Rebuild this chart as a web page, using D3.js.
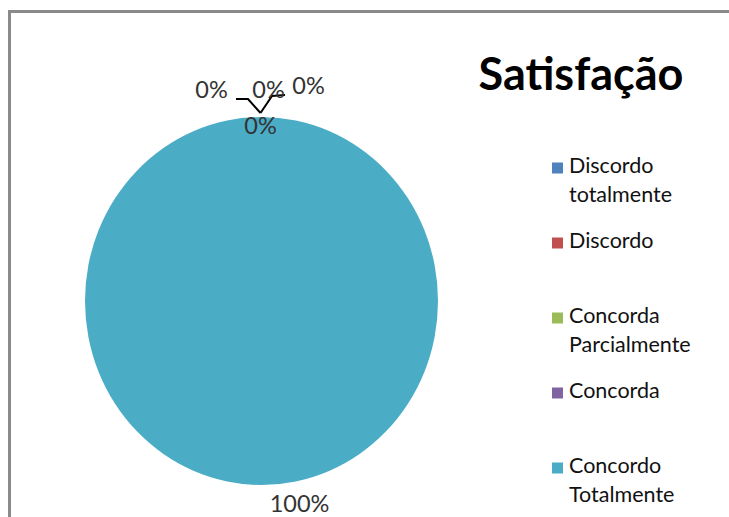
<!doctype html>
<html lang="en">
<head>
    <meta charset="utf-8">
    <title>Satisfação</title>
    <script src="https://d3js.org/d3.v7.min.js"></script>
    <style>
        body { margin: 0; background: #fff; }
        text { font-family: Lato, "Open Sans", sans-serif; }
    </style>
</head>
<body>
    <div id="chart"></div>
    <script>
        // data
        var categories = ["Discordo totalmente", "Discordo", "Concorda Parcialmente", "Concorda", "Concordo Totalmente"]
        var values = [0, 0, 0, 0, 100]
        var percentLabels = ["0%", "0%", "0%", "0%", "100%"]
        var legendLines = [["Discordo", "totalmente"], ["Discordo"], ["Concorda", "Parcialmente"], ["Concorda"], ["Concordo", "Totalmente"]]
        var colors = ["#4F81BD", "#C0504D", "#9BBB59", "#8064A2", "#4BACC6"]

        var width = 729, height = 517
        var cx = 261.5, cy = 301, rx = 176.5, ry = 184

        var svg = d3.select("#chart").append("svg")
            .attr("width", width)
            .attr("height", height)

        // frame (bottom and right are cut off in the picture)
        svg.append("path")
            .attr("d", "M9.5,517 L9.5,11.5 L729,11.5")
            .attr("fill", "none")
            .attr("stroke", "#8a8a8a")
            .attr("stroke-width", 3)

        var pie = d3.pie().sort(null).value(function (d) { return d })
        var data_ready = pie(values)
        var arc = d3.arc().innerRadius(0).outerRadius(rx)

        var g = svg.append("g")
            .attr("transform", "translate(" + cx + "," + cy + ") scale(1," + (ry / rx) + ")")

        g.selectAll("path")
            .data(data_ready)
            .enter()
            .append("path")
            .attr("d", arc)
            .attr("fill", function (d, i) { return colors[i] })

        // labels: anchor on the rim at mid angle, then nudged like Excel's best fit
        var offsets = [[-50, -25], [7, -25], [47, -29], [-1, 11], [38, 21]]
        function rim(d) {
            var a = (d.startAngle + d.endAngle) / 2
            return [cx + rx * Math.sin(a), cy - ry * Math.cos(a)]
        }

        // leader lines for the zero slices
        var rimTop = rim(data_ready[0])
        var knee = [rimTop[0] - 1, rimTop[1] - 4]
        var leaders = [
            [[236, 99], [248, 99], knee],
            [knee, [272, 96], [285, 95]]
        ]
        svg.selectAll(".leader")
            .data(leaders)
            .enter()
            .append("path")
            .attr("class", "leader")
            .attr("d", d3.line())
            .attr("fill", "none")
            .attr("stroke", "#000")
            .attr("stroke-width", 2)

        svg.selectAll(".lbl")
            .data(data_ready)
            .enter()
            .append("text")
            .attr("class", "lbl")
            .attr("x", function (d, i) { return rim(d)[0] + offsets[i][0] })
            .attr("y", function (d, i) { return rim(d)[1] + offsets[i][1] })
            .attr("text-anchor", "middle")
            .attr("dominant-baseline", "middle")
            .attr("font-size", 23.5)
            .attr("fill", "#333")
            .text(function (d, i) { return percentLabels[i] })

        // title
        svg.append("text")
            .attr("x", 581)
            .attr("y", 90)
            .attr("text-anchor", "middle")
            .attr("font-size", 45)
            .attr("font-weight", "bold")
            .attr("fill", "#000")
            .text("Satisfação")

        // legend
        var legendY = d3.scalePoint()
            .domain(categories)
            .range([168, 468])

        var leg = svg.selectAll(".leg")
            .data(categories)
            .enter()
            .append("g")
            .attr("class", "leg")
            .attr("transform", function (d) { return "translate(552," + legendY(d) + ")" })

        leg.append("rect")
            .attr("x", 0)
            .attr("y", -5.5)
            .attr("width", 11)
            .attr("height", 11)
            .attr("fill", function (d, i) { return colors[i] })

        leg.append("text")
            .attr("x", 17)
            .attr("font-size", 21.5)
            .attr("fill", "#111")
            .selectAll("tspan")
            .data(function (d, i) { return legendLines[i] })
            .enter()
            .append("tspan")
            .attr("x", 17)
            .attr("y", function (d, j) { return j * 29 })
            .attr("dominant-baseline", "middle")
            .text(function (d) { return d })
    </script>
</body>
</html>
